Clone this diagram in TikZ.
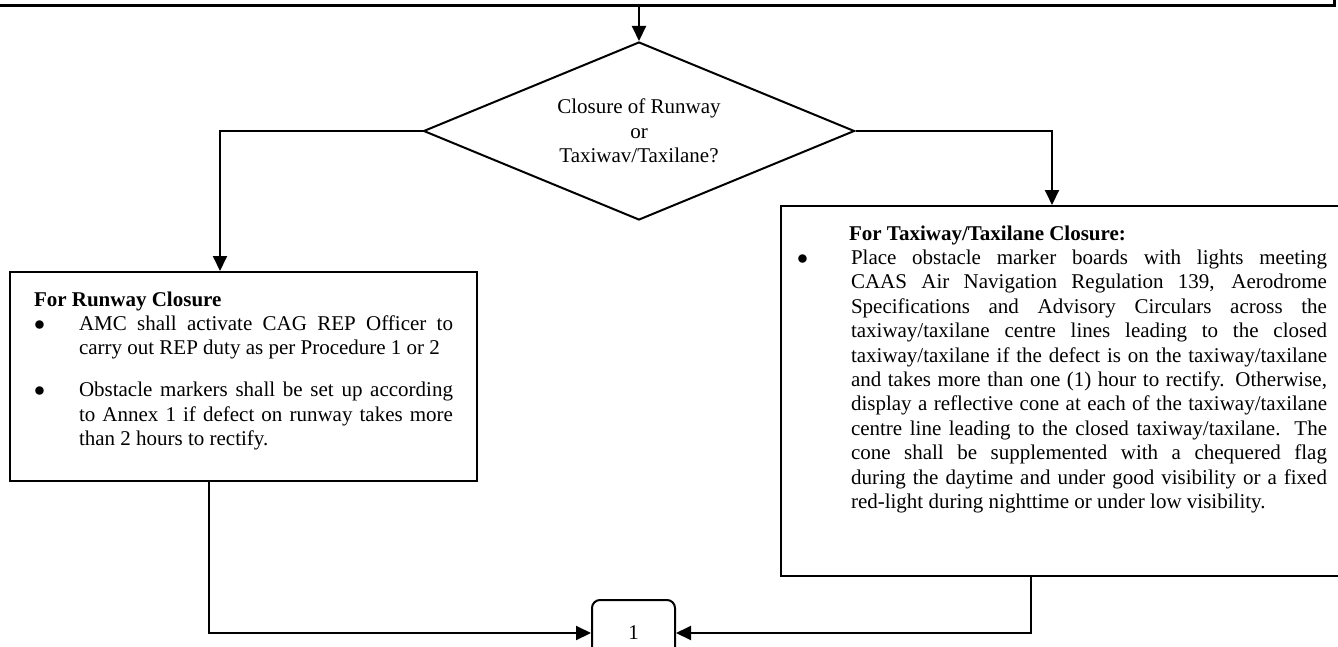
\documentclass[tikz,border=0pt]{standalone}
\usepackage{fontspec}
\setmainfont{Liberation Serif}
\usetikzlibrary{shapes.geometric,arrows.meta}
\newcommand{\bpt}[2]{\par\noindent\hangindent=#1\hangafter=1\makebox[#1][l]{$\bullet$}\ignorespaces#2}

\begin{document}
\begin{tikzpicture}[x=0.5pt,y=-0.5pt,line width=1pt,
	arr/.style={-{Triangle[length=7.5pt,width=7pt]}},
	txt/.style={font=\fontsize{10.5}{12.2}\selectfont},
	box/.style={draw,rectangle,txt,anchor=north west,inner ysep=9.8pt}]
	\useasboundingbox (0,0) rectangle (1338,647);

	\node[draw,line width=1.5pt,anchor=south east,minimum width=1400pt,minimum height=40pt] (prev) at (1336,7) {}; % previous step, cut off
	\node[draw,diamond,txt,aspect=2.42,minimum width=215.5pt,minimum height=89pt,inner sep=0pt,align=center] (dec) at (639,131) {Closure of Runway\\or\\Taxiwav/Taxilane?}; % decision

	\node[box,inner xsep=12pt] (rw) at (9,271) {\parbox[c][84.9pt][t]{209.5pt}{\textbf{For Runway Closure}\par
		\bpt{22.5pt}{AMC shall activate CAG REP Officer to\linebreak carry out REP duty as per Procedure 1 or 2}\par\vspace{8.8pt}
		\bpt{22.5pt}{Obstacle markers shall be set up according\linebreak to Annex 1 if defect on runway takes more\linebreak than 2 hours to rectify.}}}; % runway box

	\node[box,inner xsep=8pt] (tx) at (780,205) {\parbox[c][165.4pt][t]{265pt}{\hspace*{26pt}\textbf{For Taxiway/Taxilane Closure:}\par
		\bpt{27pt}{Place obstacle marker boards with lights meeting\linebreak CAAS Air Navigation Regulation 139, Aerodrome\linebreak Specifications and Advisory Circulars across the\linebreak taxiway/taxilane centre lines leading to the closed\linebreak taxiway/taxilane if the defect is on the taxiway/taxilane\linebreak and takes more than one (1) hour to rectify. Otherwise,\linebreak display a reflective cone at each of the taxiway/taxilane\linebreak centre line leading to the closed taxiway/taxilane. The\linebreak cone shall be supplemented with a chequered flag\linebreak during the daytime and under good visibility or a fixed\linebreak red-light during nighttime or under low visibility.}}}; % taxiway box

	\node[draw,rounded corners=4pt,txt,minimum width=41.5pt,minimum height=33pt] (one) at (633.5,633) {1}; % connector 1

	\coordinate (lcol) at (220,0); % left branch column
	\coordinate (rcol) at (1052,0); % right branch column
	\coordinate (lout) at (209,0);
	\coordinate (rout) at (1031,0);

	\draw[arr] (prev.south -| dec.north) -- (dec.north);
	\draw[arr] (dec.west) -| (lcol |- rw.north);
	\draw[arr] (dec.east) -| (rcol |- tx.north);
	\draw[arr] (lout |- rw.south) |- (one.west);
	\draw[arr] (rout |- tx.south) |- (one.east);
\end{tikzpicture}
\end{document}
